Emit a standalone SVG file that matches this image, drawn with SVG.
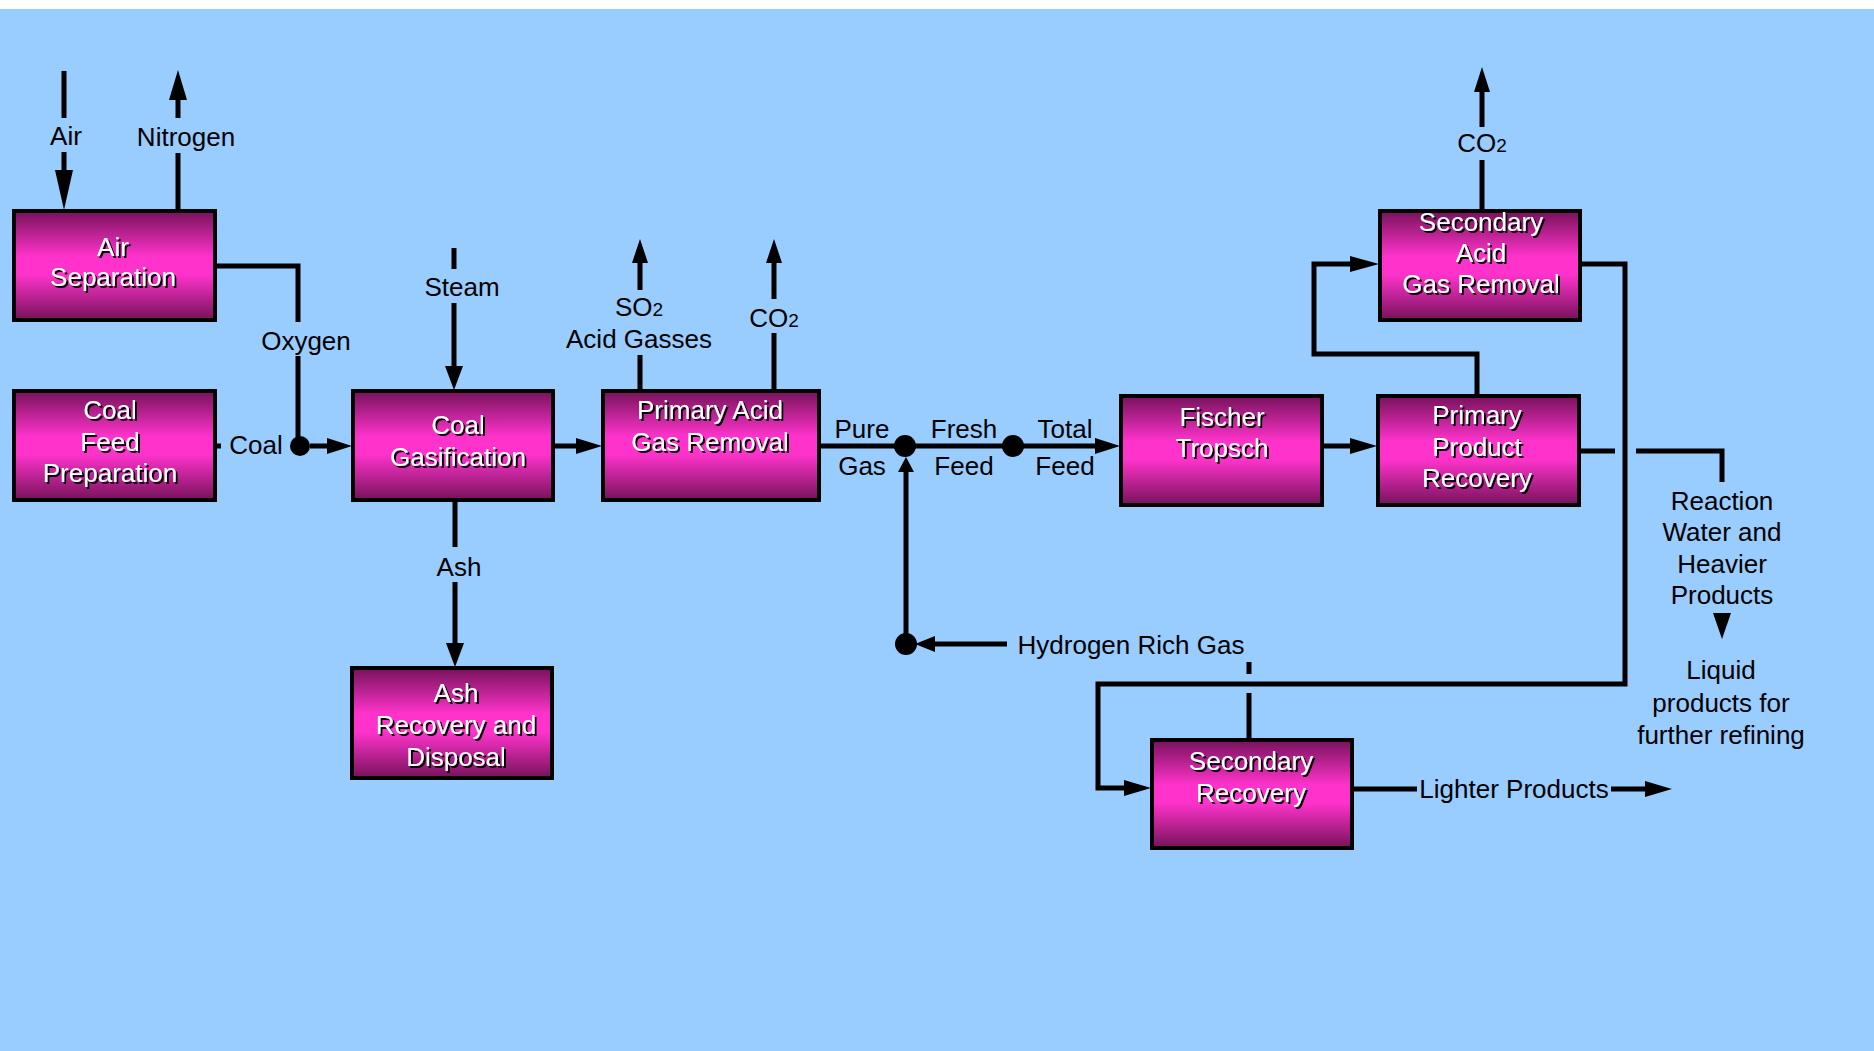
<svg xmlns="http://www.w3.org/2000/svg" width="1874" height="1051" viewBox="0 0 1874 1051">
<defs>
<linearGradient id="boxg" x1="0" y1="0" x2="0" y2="1">
<stop offset="0" stop-color="#76125A"/>
<stop offset="0.42" stop-color="#FF33CC"/>
<stop offset="0.58" stop-color="#FF33CC"/>
<stop offset="1" stop-color="#76125A"/>
</linearGradient>
<filter id="sh" x="-10%" y="-10%" width="120%" height="130%">
<feDropShadow dx="2" dy="2" stdDeviation="0.3" flood-color="#000000" flood-opacity="1"/>
</filter>
<style>
.box{fill:url(#boxg);stroke:#000;stroke-width:4}
.bt{font-family:"Liberation Sans",Arial,sans-serif;font-size:26px;fill:#fff;text-anchor:middle;filter:url(#sh)}
.lb{font-family:"Liberation Sans",Arial,sans-serif;font-size:26px;fill:#000;text-anchor:middle}
.ln{fill:none;stroke:#000;stroke-width:5}
.ah{fill:#000}
.sub{font-size:19px}
</style>
</defs>
<rect x="0" y="0" width="1874" height="1051" fill="#ffffff"/>
<rect x="0" y="9" width="1874" height="1042" fill="#99CCFF"/>

<g id="connectors">
<path class="ln" d="M64,71V118M64,152V172"/>
<polygon class="ah" points="55,170 73,170 64,210"/>
<path class="ln" d="M178,210V153M178,118V98"/>
<polygon class="ah" points="169,100 187,100 178,70"/>
<path class="ln" d="M215,266H298V322M298,356V446"/>
<path class="ln" d="M215,446H221M310,446H329"/>
<circle cx="300" cy="446" r="10"/>
<polygon class="ah" points="327,438 327,454 352,446"/>
<path class="ln" d="M454,248V269M454,303V368"/>
<polygon class="ah" points="445,366 463,366 454,390"/>
<path class="ln" d="M553,446H578"/>
<polygon class="ah" points="576,438 576,454 602,446"/>
<path class="ln" d="M455,500V547M455,582V645"/>
<polygon class="ah" points="446,643 464,643 455,667"/>
<path class="ln" d="M640,390V355M640,290V261"/>
<polygon class="ah" points="632,263 648,263 640,239"/>
<path class="ln" d="M774,390V333M774,299V261"/>
<polygon class="ah" points="766,263 782,263 774,239"/>
<path class="ln" d="M819,446H1097"/>
<polygon class="ah" points="1095,438 1095,454 1120,446"/>
<circle cx="905" cy="446" r="11"/>
<circle cx="1013" cy="446" r="11"/>
<path class="ln" d="M906,644V470"/>
<polygon class="ah" points="898,472 914,472 906,457"/>
<circle cx="906" cy="644" r="11"/>
<path class="ln" d="M933,644H1007"/>
<polygon class="ah" points="935,636 935,652 915,644"/>
<path class="ln" d="M1249,662V674M1249,693V739"/>
<path class="ln" d="M1322,446H1352"/>
<polygon class="ah" points="1350,438 1350,454 1377,446"/>
<path class="ln" d="M1477,396V354H1314V264H1352"/>
<polygon class="ah" points="1350,256 1350,272 1379,264"/>
<path class="ln" d="M1482,210V160M1482,127V90"/>
<polygon class="ah" points="1474,92 1490,92 1482,67"/>
<path class="ln" d="M1581,264H1625V684H1098V788H1126"/>
<polygon class="ah" points="1124,780 1124,796 1151,788"/>
<path class="ln" d="M1579,451H1615M1636,451H1722V482"/>
<polygon class="ah" points="1713,613 1731,613 1722,639"/>
<path class="ln" d="M1352,789H1417M1611,789H1647"/>
<polygon class="ah" points="1645,781 1645,797 1672,789"/>
</g>

<g id="labels">
<text class="lb" x="66" y="145">Air</text>
<text class="lb" x="186" y="146">Nitrogen</text>
<text class="lb" x="306" y="350">Oxygen</text>
<text class="lb" x="256" y="454">Coal</text>
<text class="lb" x="462" y="296">Steam</text>
<text class="lb" x="459" y="576">Ash</text>
<text class="lb" x="639" y="316">SO<tspan class="sub">2</tspan></text>
<text class="lb" x="639" y="348">Acid Gasses</text>
<text class="lb" x="774" y="327">CO<tspan class="sub">2</tspan></text>
<text class="lb" x="862" y="438">Pure</text>
<text class="lb" x="862" y="475">Gas</text>
<text class="lb" x="964" y="438">Fresh</text>
<text class="lb" x="964" y="475">Feed</text>
<text class="lb" x="1065" y="438">Total</text>
<text class="lb" x="1065" y="475">Feed</text>
<text class="lb" x="1131" y="654">Hydrogen Rich Gas</text>
<text class="lb" x="1482" y="152">CO<tspan class="sub">2</tspan></text>
<text class="lb" x="1722" y="510">Reaction</text>
<text class="lb" x="1722" y="541">Water and</text>
<text class="lb" x="1722" y="573">Heavier</text>
<text class="lb" x="1722" y="604">Products</text>
<text class="lb" x="1721" y="679">Liquid</text>
<text class="lb" x="1721" y="712">products for</text>
<text class="lb" x="1721" y="744">further refining</text>
<text class="lb" x="1514" y="798">Lighter Products</text>
</g>

<g id="air-separation">
<rect class="box" x="14" y="211" width="201" height="109"/>
<text class="bt" x="113" y="256">Air</text>
<text class="bt" x="113" y="286">Separation</text>
</g>
<g id="coal-feed-preparation">
<rect class="box" x="14" y="391" width="201" height="109"/>
<text class="bt" x="110" y="419">Coal</text>
<text class="bt" x="110" y="451">Feed</text>
<text class="bt" x="110" y="482">Preparation</text>
</g>
<g id="coal-gasification">
<rect class="box" x="353" y="391" width="200" height="109"/>
<text class="bt" x="458" y="434">Coal</text>
<text class="bt" x="458" y="466">Gasification</text>
</g>
<g id="ash-recovery">
<rect class="box" x="352" y="668" width="200" height="110"/>
<text class="bt" x="456" y="702">Ash</text>
<text class="bt" x="456" y="734">Recovery and</text>
<text class="bt" x="456" y="766">Disposal</text>
</g>
<g id="primary-acid-gas-removal">
<rect class="box" x="603" y="391" width="216" height="109"/>
<text class="bt" x="710" y="419">Primary Acid</text>
<text class="bt" x="710" y="451">Gas Removal</text>
</g>
<g id="fischer-tropsch">
<rect class="box" x="1121" y="396" width="201" height="109"/>
<text class="bt" x="1222" y="426">Fischer</text>
<text class="bt" x="1222" y="457">Tropsch</text>
</g>
<g id="primary-product-recovery">
<rect class="box" x="1378" y="396" width="201" height="109"/>
<text class="bt" x="1477" y="424">Primary</text>
<text class="bt" x="1477" y="456">Product</text>
<text class="bt" x="1477" y="487">Recovery</text>
</g>
<g id="secondary-acid-gas-removal">
<rect class="box" x="1380" y="211" width="200" height="109"/>
<text class="bt" x="1481" y="231">Secondary</text>
<text class="bt" x="1481" y="262">Acid</text>
<text class="bt" x="1481" y="293">Gas Removal</text>
</g>
<g id="secondary-recovery">
<rect class="box" x="1152" y="740" width="200" height="108"/>
<text class="bt" x="1251" y="770">Secondary</text>
<text class="bt" x="1251" y="802">Recovery</text>
</g>
</svg>
